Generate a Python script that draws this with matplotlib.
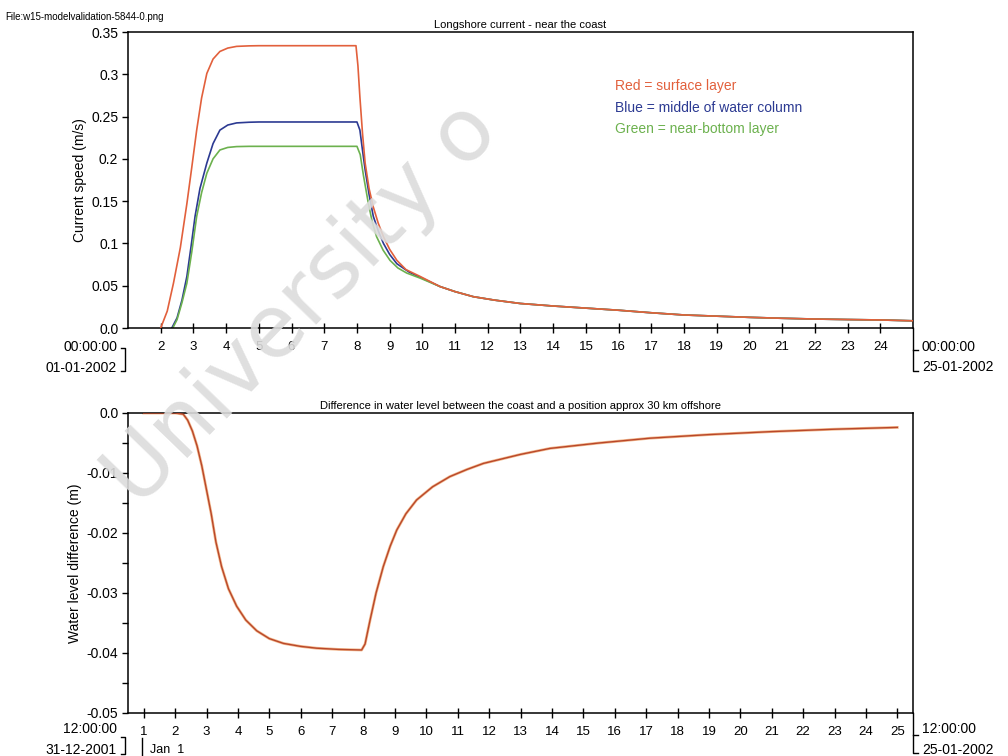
import matplotlib
matplotlib.use("Agg")
import matplotlib.pyplot as plt
from matplotlib.lines import Line2D

plt.rcParams['font.family'] = ['Liberation Sans', 'DejaVu Sans']

# ---- data ----
# longshore current (m/s), day of January 2002
red_day = [2.0, 2.2, 2.39, 2.6, 2.8, 2.95, 3.1, 3.25, 3.41, 3.6, 3.81, 4.05, 4.32, 4.7, 5.0, 6.0, 7.0, 7.97,
           8.03, 8.09, 8.17, 8.25, 8.37, 8.5, 8.65, 8.81, 9.0, 9.22, 9.5, 9.93]
red_speed = [0.0, 0.02, 0.053, 0.095, 0.147, 0.19, 0.234, 0.272, 0.301, 0.318, 0.327, 0.331, 0.333, 0.3336, 0.3338, 0.3338,
             0.3338, 0.3338, 0.31, 0.273, 0.23, 0.195, 0.165, 0.143, 0.124, 0.108, 0.093, 0.080, 0.069, 0.061]

blue_day = [2.34, 2.5, 2.65, 2.8, 2.93, 3.05, 3.2, 3.41, 3.6, 3.81, 4.05, 4.32, 4.7, 5.0, 6.0, 7.0, 8.0,
            8.09, 8.17, 8.25, 8.37, 8.5, 8.65, 8.81, 9.0, 9.22, 9.6, 9.93]
blue_speed = [0.0, 0.012, 0.033, 0.061, 0.097, 0.132, 0.165, 0.195, 0.218, 0.234, 0.240, 0.2425, 0.2433, 0.2436, 0.2436,
              0.2436, 0.2436, 0.234, 0.21, 0.187, 0.158, 0.132, 0.115, 0.100, 0.087, 0.076, 0.066, 0.060]

green_day = [2.37, 2.5, 2.65, 2.8, 2.95, 3.1, 3.25, 3.41, 3.6, 3.81, 4.05, 4.32, 4.7, 5.0, 6.0, 7.0, 8.0,
             8.1, 8.2, 8.35, 8.47, 8.6, 8.8, 9.01, 9.25, 9.52, 9.93]
green_speed = [0.0, 0.01, 0.03, 0.053, 0.09, 0.132, 0.16, 0.183, 0.200, 0.2105, 0.2135, 0.2145, 0.2148, 0.2148, 0.2148,
               0.2148, 0.2148, 0.205, 0.18, 0.147, 0.125, 0.108, 0.092, 0.080, 0.071, 0.065, 0.059]

# common tail once the three layers have merged
tail_day = [10.54, 11.0, 11.56, 12.2, 12.99, 14.0, 15.0, 16.0, 17.0, 18.0, 19.0, 20.0, 21.0, 22.0, 23.0, 24.0, 25.0]
tail_speed = [0.049, 0.043, 0.037, 0.033, 0.029, 0.026, 0.0235, 0.021, 0.018, 0.0154, 0.014, 0.0126, 0.0115, 0.0106, 0.010,
              0.0095, 0.0085]

# water level difference (m)
level_day = [1.0, 2.0, 2.26, 2.4, 2.55, 2.7, 2.85, 3.0, 3.15, 3.3, 3.48, 3.7, 3.96, 4.25, 4.6, 5.0, 5.45, 6.0, 6.51,
             7.2, 7.94, 8.05, 8.21, 8.4, 8.63, 8.85, 9.06, 9.35, 9.69, 10.2, 10.75, 11.3, 11.82, 13.0, 13.94, 15.5,
             17.12, 19.0, 21.0, 23.0, 25.0]
level_diff = [0.0, 0.0, -0.0002, -0.0012, -0.003, -0.0055, -0.0088, -0.0128, -0.0168, -0.0215, -0.0256, -0.0293,
              -0.0322, -0.0345, -0.0363, -0.0376, -0.0384, -0.0389, -0.0392, -0.0394, -0.0395,
              -0.0385, -0.0345, -0.030, -0.0256, -0.0222, -0.0195, -0.0168, -0.0145, -0.0123, -0.0106, -0.0094,
              -0.0084, -0.0069, -0.0059, -0.0050, -0.0042, -0.0036, -0.0031, -0.0027, -0.0024]

top_yticks = [0.0, 0.05, 0.1, 0.15, 0.2, 0.25, 0.3, 0.35]
top_ylabels = ["0.0", "0.05", "0.1", "0.15", "0.2", "0.25", "0.3", "0.35"]
bot_yticks = [0.0, -0.01, -0.02, -0.03, -0.04, -0.05]
bot_ylabels = ["0.0", "-0.01", "-0.02", "-0.03", "-0.04", "-0.05"]
top_xticks = list(range(2, 25))
bot_xticks = list(range(1, 26))

RED = '#e2603c'
BLUE = '#2c3a92'
GREEN = '#6cb14e'
LEVEL = '#b9472a'

W, H = 1008, 756


def fx(x):
    return x / W


def fy(y):
    return 1 - y / H


def fig_line(fig, xs, ys):
    fig.add_artist(Line2D([fx(v) for v in xs], [fy(v) for v in ys], transform=fig.transFigure,
                          color='black', lw=1.0))


fig = plt.figure(figsize=(10.08, 7.56), dpi=100)
fig.patch.set_facecolor('white')

ax1 = fig.add_axes([fx(128), fy(328), fx(913) - fx(128), fy(32) - fy(328)])
ax2 = fig.add_axes([fx(128), fy(713), fx(913) - fx(128), fy(413) - fy(713)])

# top panel
ax1.plot(red_day + tail_day, red_speed + tail_speed, color=RED, lw=1.2, zorder=3)
ax1.plot(blue_day + tail_day, blue_speed + tail_speed, color=BLUE, lw=1.2, zorder=2)
ax1.plot(green_day + tail_day, green_speed + tail_speed, color=GREEN, lw=1.2, zorder=2)
ax1.set_xlim(1, 25)
ax1.set_ylim(0, 0.35)
ax1.set_yticks(top_yticks)
ax1.set_yticklabels(top_ylabels)
ax1.set_xticks(top_xticks)
ax1.set_xticklabels([str(d) for d in top_xticks])
ax1.set_ylabel("Current speed (m/s)", fontsize=10, labelpad=3)
ax1.set_title("Longshore current - near the coast", fontsize=8, pad=3)

ax1.text(0.62, 0.817, "Red = surface layer", color=RED, fontsize=10, transform=ax1.transAxes, va='center')
ax1.text(0.62, 0.743, "Blue = middle of water column", color=BLUE, fontsize=10, transform=ax1.transAxes, va='center')
ax1.text(0.62, 0.672, "Green = near-bottom layer", color=GREEN, fontsize=10, transform=ax1.transAxes, va='center')

# bottom panel
ax2.plot(level_day, level_diff, color='#e8873f', lw=2.0, zorder=2, alpha=0.6)
ax2.plot(level_day, level_diff, color=LEVEL, lw=1.0, zorder=3)
ax2.set_xlim(0.5, 25.5)
ax2.set_ylim(-0.05, 0.0)
ax2.set_yticks(bot_yticks)
ax2.set_yticklabels(bot_ylabels)
ax2.set_yticks([-0.005, -0.015, -0.025, -0.035, -0.045], minor=True)
ax2.set_xticks(bot_xticks)
ax2.set_xticklabels([str(d) for d in bot_xticks])
ax2.set_ylabel("Water level difference (m)", fontsize=10, labelpad=3)
ax2.set_title("Difference in water level between the coast and a position approx 30 km offshore",
              fontsize=8, pad=3)

for ax in (ax1, ax2):
    for s in ax.spines.values():
        s.set_linewidth(1.1)
    ax.tick_params(axis='y', direction='out', length=4, width=1, labelsize=10, pad=3)
    ax.tick_params(axis='y', which='minor', direction='out', length=4, width=1)
    ax.tick_params(axis='x', direction='inout', length=7, width=1, labelsize=9.5, pad=6)

# date stamps below the axes corners
stamp = dict(fontsize=10, va='center')
fig.text(fx(117), fy(347), "00:00:00", ha='right', **stamp)
fig.text(fx(117), fy(368), "01-01-2002", ha='right', **stamp)
fig.text(fx(922), fy(347), "00:00:00", ha='left', **stamp)
fig.text(fx(922), fy(367), "25-01-2002", ha='left', **stamp)
fig.text(fx(117), fy(729), "12:00:00", ha='right', **stamp)
fig.text(fx(117), fy(750), "31-12-2001", ha='right', **stamp)
fig.text(fx(922), fy(729), "12:00:00", ha='left', **stamp)
fig.text(fx(922), fy(750), "25-01-2002", ha='left', **stamp)
fig.text(fx(150), fy(750), "Jan  1", ha='left', fontsize=9, va='center')

fig_line(fig, [121, 125, 125, 121], [348, 348, 371, 371])
fig_line(fig, [913, 913, 918], [328, 371, 371])
fig_line(fig, [913, 918], [350, 350])
fig_line(fig, [121, 125, 125, 121], [737, 737, 754, 754])
fig_line(fig, [142, 142], [738, 755])
fig_line(fig, [913, 913, 918], [713, 753, 753])
fig_line(fig, [913, 918], [735, 735])

fig.text(fx(5), fy(17), "File:w15-modelvalidation-5844-0.png", fontsize=7, va='center', ha='left')

# scanned watermark (only this part is visible in the scan)
fig.text(fx(138), fy(509), "University o", family='DejaVu Sans', fontsize=63, color='#dcdcdc', alpha=0.9,
         rotation=46, rotation_mode='anchor', ha='left', va='baseline', zorder=10)

fig.savefig("out.png", dpi=100)
